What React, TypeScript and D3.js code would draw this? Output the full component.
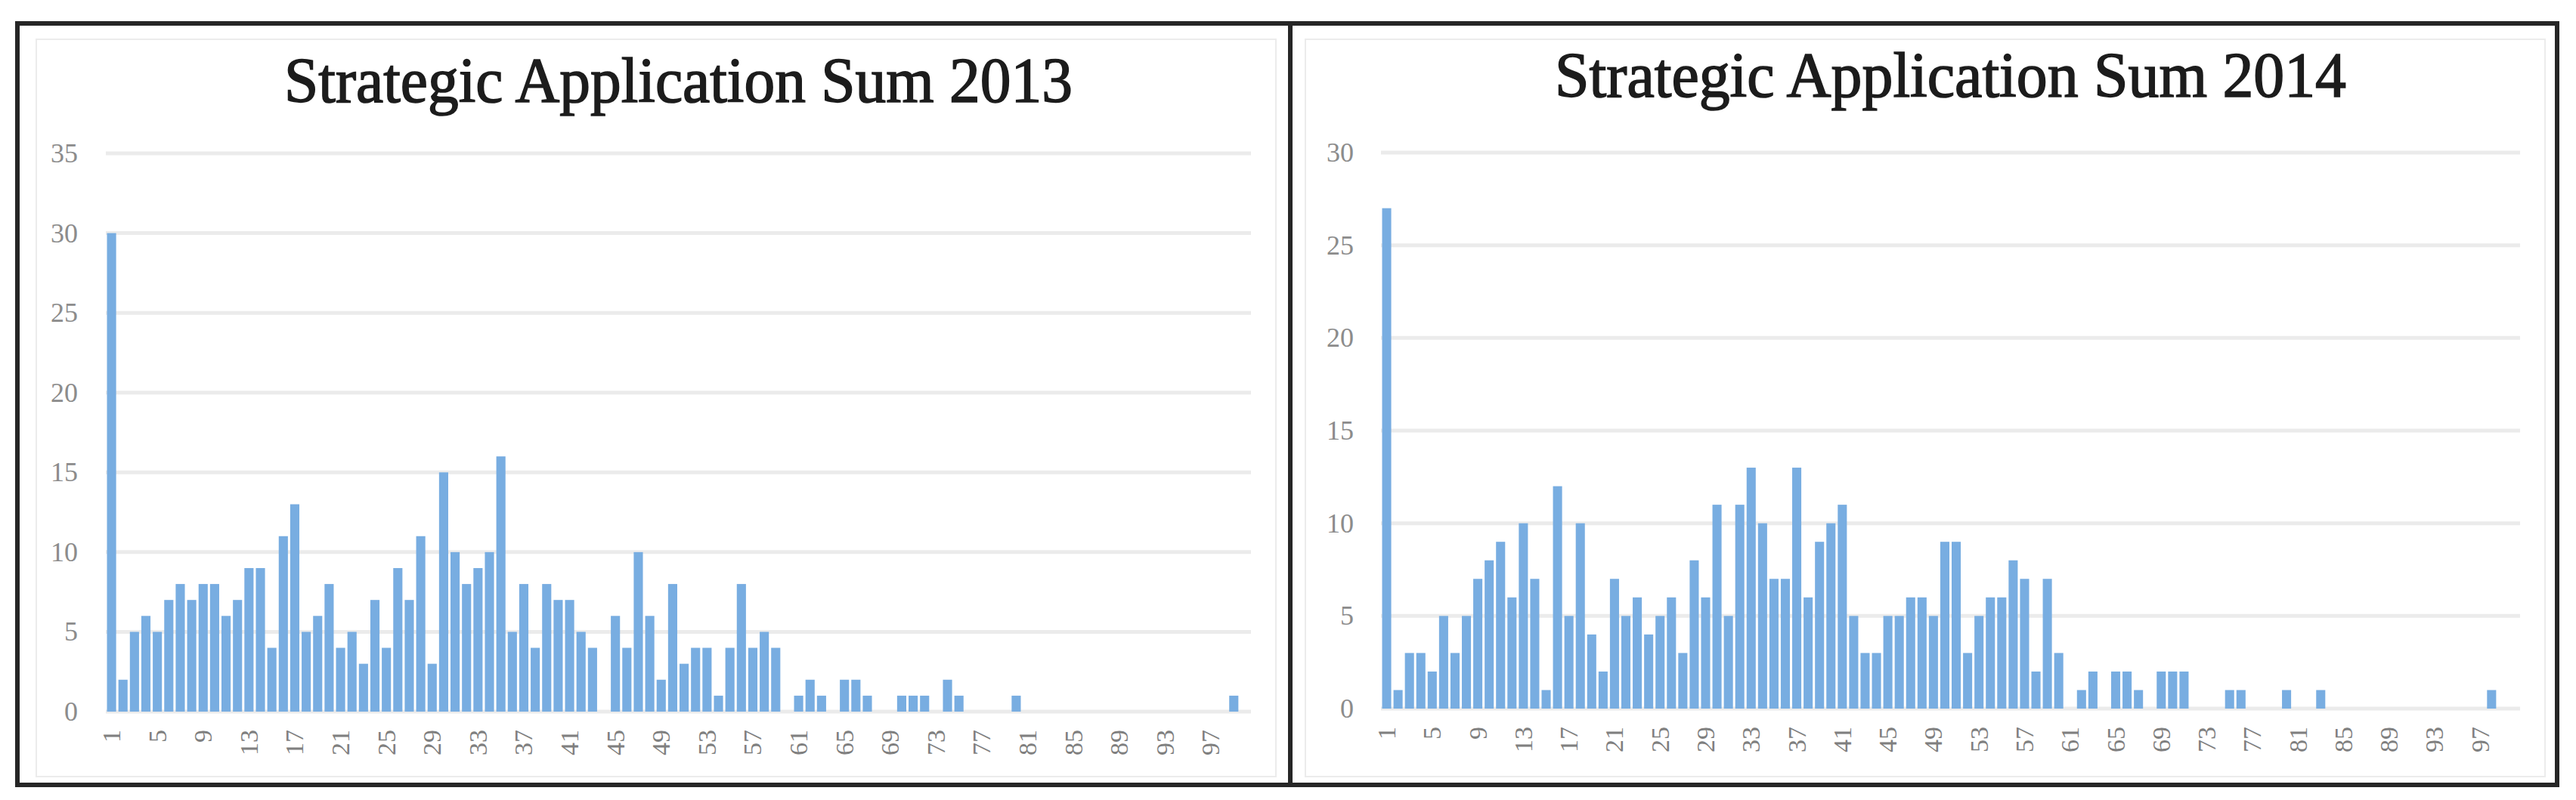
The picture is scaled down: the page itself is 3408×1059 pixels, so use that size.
import React, { useEffect } from "react";
import * as d3 from "d3";

// ---- data ----
const categories: number[] = d3.range(1, 101);
const xTickLabels = ["1","5","9","13","17","21","25","29","33","37","41","45","49","53","57","61","65","69","73","77","81","85","89","93","97"];

const values2013 = [
  30,2,5,6,5,7,8,7,8,8,
  6,7,9,9,4,11,13,5,6,8,
  4,5,3,7,4,9,7,11,3,15,
  10,8,9,10,16,5,8,4,8,7,
  7,5,4,0,6,4,10,6,2,8,
  3,4,4,1,4,8,4,5,4,0,
  1,2,1,0,2,2,1,0,0,1,
  1,1,0,2,1,0,0,0,0,1,
  0,0,0,0,0,0,0,0,0,0,
  0,0,0,0,0,0,0,0,1,0,
];

const values2014 = [
  27,1,3,3,2,5,3,5,7,8,
  9,6,10,7,1,12,5,10,4,2,
  7,5,6,4,5,6,3,8,6,11,
  5,11,13,10,7,7,13,6,9,10,
  11,5,3,3,5,5,6,6,5,9,
  9,3,5,6,6,8,7,2,7,3,
  0,1,2,0,2,2,1,0,2,2,
  2,0,0,0,1,1,0,0,0,1,
  0,0,1,0,0,0,0,0,0,0,
  0,0,0,0,0,0,0,1,0,0,
];

const yTicks2013 = [0,5,10,15,20,25,30,35];
const yTicks2014 = [0,5,10,15,20,25,30];

const titles = ["Strategic Application Sum 2013", "Strategic Application Sum 2014"];

const W = 3408;
const H = 1059;

type PanelProps = {
  title: string;
  values: number[];
  yTicks: number[];
  x0: number; x1: number;
  yBase: number; yTop: number;
  labelRight: number;
  titleBaseline: number;
  titleWidth: number;
};

function Panel(p: PanelProps) {
  const yMax = p.yTicks[p.yTicks.length - 1];
  const x = d3.scaleBand<number>().domain(categories).range([p.x0, p.x1]).paddingInner(0.2).paddingOuter(0.1);
  const y = d3.scaleLinear().domain([0, yMax]).range([p.yBase, p.yTop]);
  const labelSet = new Set(xTickLabels);
  const cx = (p.x0 + p.x1) / 2;
  return (
    <g>
      {p.yTicks.map((t) => (
        <line key={"g" + t} x1={p.x0} x2={p.x1} y1={y(t)} y2={y(t)} stroke="#ebebeb" strokeWidth={5} />
      ))}
      {p.yTicks.map((t) => (
        <text key={"yl" + t} x={p.labelRight} y={y(t)} textAnchor="end" dominantBaseline="central"
          fontFamily="'Liberation Serif', 'Times New Roman', serif" fontSize={36} fill="#8c8c8c">{t}</text>
      ))}
      {categories.map((c, i) => {
        const v = p.values[i];
        if (!v) return null;
        return (
          <rect key={"b" + c} x={x(c)} y={y(v)} width={x.bandwidth()} height={y(0) - y(v)} fill="#78ade1" />
        );
      })}
      {categories.filter((c) => labelSet.has(String(c))).map((c) => (
        <text key={"xl" + c}
          transform={`translate(${(x(c) as number) + x.bandwidth() / 2},${p.yBase + 24}) rotate(-90)`}
          textAnchor="end" dominantBaseline="central"
          fontFamily="'Liberation Serif', 'Times New Roman', serif" fontSize={34} fill="#7f7f7f">{c}</text>
      ))}
      <text x={cx} y={p.titleBaseline} textAnchor="middle" textLength={p.titleWidth} lengthAdjust="spacingAndGlyphs"
        fontFamily="'Liberation Serif', 'Times New Roman', serif" fontSize={84} fill="#1c1c1c"
        stroke="#1c1c1c" strokeWidth={1.6}>{p.title}</text>
    </g>
  );
}

export default function App() {
  useEffect(() => {
    document.body.style.margin = "0";
    document.body.style.background = "#ffffff";
  }, []);
  return (
    <svg width={W} height={H} viewBox={`0 0 ${W} ${H}`} style={{ display: "block", position: "absolute", left: 0, top: 0 }}>
      <rect x={0} y={0} width={W} height={H} fill="#ffffff" />
      <Panel title={titles[0]} values={values2013} yTicks={yTicks2013}
        x0={140} x1={1655} yBase={942} yTop={203} labelRight={103} titleBaseline={135} titleWidth={1043} />
      <Panel title={titles[1]} values={values2014} yTicks={yTicks2014}
        x0={1827} x1={3334} yBase={938} yTop={202} labelRight={1791} titleBaseline={128} titleWidth={1047} />
      {/* faint inner chart-area borders */}
      <rect x={48} y={52} width={1640} height={976} fill="none" stroke="#ececec" strokeWidth={2} />
      <rect x={1727} y={52} width={1640} height={976} fill="none" stroke="#ececec" strokeWidth={2} />
      {/* outer frames */}
      <rect x={23} y={31} width={1684} height={1008} fill="none" stroke="#262626" strokeWidth={6} />
      <rect x={1707} y={31} width={1676} height={1008} fill="none" stroke="#262626" strokeWidth={6} />
    </svg>
  );
}
